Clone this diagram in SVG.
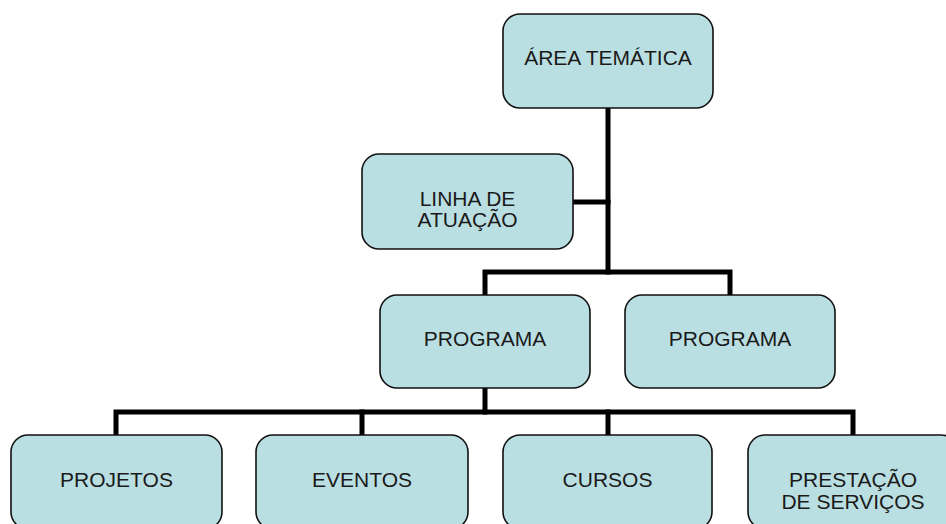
<svg xmlns="http://www.w3.org/2000/svg" width="946" height="524" viewBox="0 0 946 524">
<style>
.box{fill:#BADFE2;stroke:#111;stroke-width:1.6}
.t{font-family:"Liberation Sans",Arial,sans-serif;font-size:21px;fill:#1a1a1a;text-anchor:middle}
.c{fill:none;stroke:#000;stroke-width:5;stroke-linecap:square;stroke-linejoin:miter}
</style>
<rect width="946" height="524" fill="#fff"/>
<g id="connectors">
<path class="c" d="M608 108V272"/>
<path class="c" d="M574 202H608"/>
<path class="c" d="M485 295V272H730V295"/>
<path class="c" d="M485 389V412"/>
<path class="c" d="M116 435V412H853V435"/>
<path class="c" d="M362 412V435M608 412V435"/>
</g>
<g id="area"><rect class="box" x="503" y="14" width="210" height="94" rx="17"/><text class="t" x="608" y="65">ÁREA TEMÁTICA</text></g>
<g id="linha"><rect class="box" x="362" y="154" width="211" height="95" rx="17"/><text class="t" x="467.5" y="206">LINHA DE</text><text class="t" x="467.5" y="227">ATUAÇÃO</text></g>
<g id="programa1"><rect class="box" x="380" y="295" width="210" height="93" rx="17"/><text class="t" x="485" y="346">PROGRAMA</text></g>
<g id="programa2"><rect class="box" x="625" y="295" width="210" height="93" rx="17"/><text class="t" x="730" y="346">PROGRAMA</text></g>
<g id="projetos"><rect class="box" x="11" y="435" width="211" height="94" rx="17"/><text class="t" x="116.5" y="487">PROJETOS</text></g>
<g id="eventos"><rect class="box" x="256" y="435" width="212" height="94" rx="17"/><text class="t" x="362" y="487">EVENTOS</text></g>
<g id="cursos"><rect class="box" x="503" y="435" width="209" height="94" rx="17"/><text class="t" x="607.5" y="487">CURSOS</text></g>
<g id="prestacao"><rect class="box" x="748" y="435" width="210" height="94" rx="17"/><text class="t" x="853" y="487">PRESTAÇÃO</text><text class="t" x="853" y="509">DE SERVIÇOS</text></g>
</svg>
